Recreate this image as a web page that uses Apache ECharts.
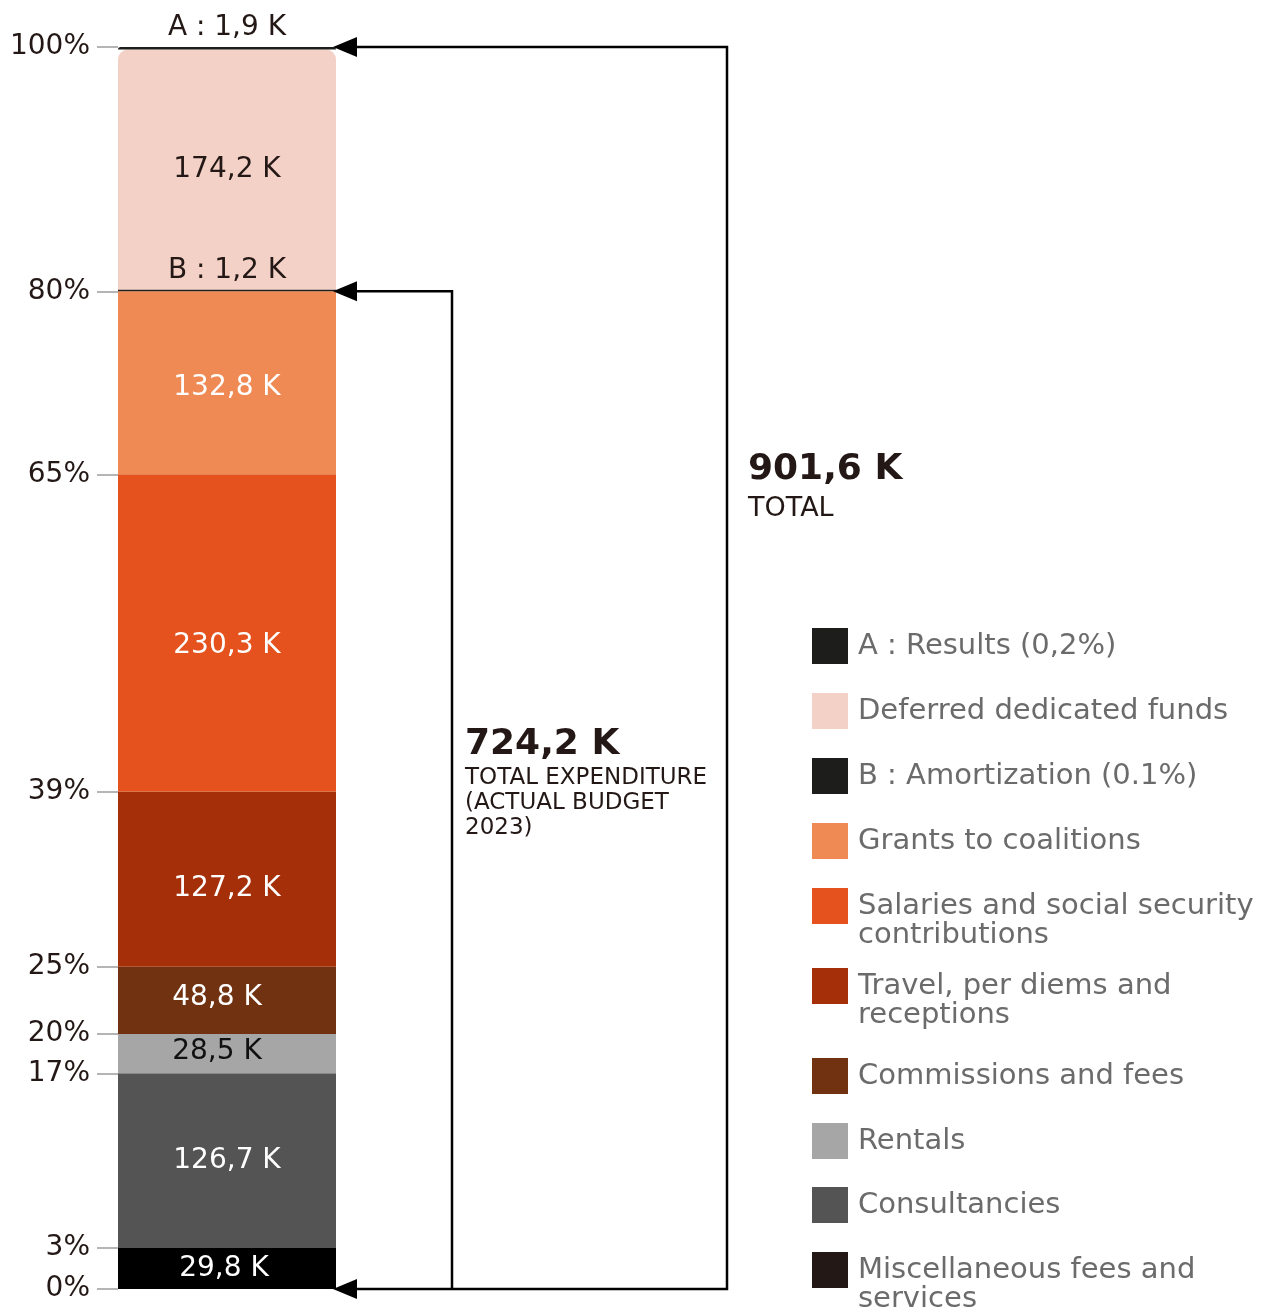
<!DOCTYPE html>
<html><head><meta charset="utf-8">
<script src="https://cdn.jsdelivr.net/npm/echarts@6/dist/echarts.min.js"></script>
<style>html,body{margin:0;padding:0;background:#fff}#c{width:1264px;height:1309px}</style>
</head><body><div id="c"></div>
<script>
// ---- data (bottom to top of the stack) ----
const categories = ['Miscellaneous fees and services','Consultancies','Rentals','Commissions and fees',
  'Travel, per diems and receptions','Salaries and social security contributions','Grants to coalitions',
  'B : Amortization (0.1%)','Deferred dedicated funds','A : Results (0,2%)'];
const values = [29.8, 126.7, 28.5, 48.8, 127.2, 230.3, 132.8, 1.2, 174.2, 1.9];
const labelPrefixes = ['', '', '', '', '', '', '', 'B : ', '', 'A : '];
const legendTexts = ['Miscellaneous fees and\nservices','Consultancies','Rentals','Commissions and fees',
  'Travel, per diems and\nreceptions','Salaries and social security\ncontributions','Grants to coalitions',
  'B : Amortization (0.1%)','Deferred dedicated funds','A : Results (0,2%)'];
const tickLabels = ['0%','3%','17%','20%','25%','39%','65%','80%','100%'];
const tickAfterIndex = [-1, 0, 1, 2, 3, 4, 5, 6, 9];
const totalValue = 901.6;
const expenditureValue = 724.2;
const totalText = ['901,6 K', 'TOTAL'];
const expenditureText = ['724,2 K', 'TOTAL EXPENDITURE\n(ACTUAL BUDGET\n2023)'];

// ---- styles ----
const FONT = 'DejaVu Sans';
const colors = ['#000000','#545454','#a6a6a6','#713211','#a52f09','#e5521e','#f08a54','#1d1d1b','#f4d1c6','#1d1d1b'];
const legendColors = ['#231815','#545454','#a6a6a6','#713211','#a52f09','#e5521e','#f08a54','#1d1d1b','#f4d1c6','#1d1d1b'];
const labelColors = ['#fff','#fff','#111','#fff','#fff','#fff','#fff','#231815','#231815','#231815'];
const labelOffsets = [[-3,0],[0,0],[-10,-2],[-10,-3],[0,9],[0,13],[0,5],[0,0],[0,0],[0,0]];
const legendOrder = [9, 8, 7, 6, 5, 4, 3, 2, 1, 0];
const legendTops = [628, 693, 758, 823, 888, 968, 1058, 1123, 1187, 1252];
const BAR_W = 218;
const LEG_LH = 29;

const cumulative = [];
values.reduce((s, v, i) => (cumulative[i] = s + v), 0);
const stackTop = cumulative[cumulative.length - 1];
const tickValues = tickAfterIndex.map(i => (i < 0 ? 0 : cumulative[i]));
const fmt = v => v.toFixed(1).replace('.', ',') + ' K';

const chart = echarts.init(document.getElementById('c'), null, {renderer: 'canvas'});
chart.setOption({
  animation: false,
  backgroundColor: '#fff',
  grid: {left: 118, top: 47, bottom: 20, width: BAR_W, containLabel: false},
  xAxis: {type: 'category', data: ['Budget'], show: false},
  yAxis: {
    type: 'value', min: 0, max: stackTop,
    axisLine: {show: false}, splitLine: {show: false},
    axisTick: {show: true, customValues: tickValues, length: 21, lineStyle: {color: '#b5b5b5', width: 2}},
    axisLabel: {
      customValues: tickValues, margin: 28, fontSize: 28, fontFamily: FONT, color: '#231815',
      formatter: v => {
        let best = 0;
        tickValues.forEach((t, i) => { if (Math.abs(t - v) < Math.abs(tickValues[best] - v)) best = i; });
        return tickLabels[best];
      }
    }
  },
  legend: legendOrder.map((idx, k) => {
    const two = legendTexts[idx].indexOf('\n') >= 0;
    return {
      data: [{name: categories[idx], icon: 'rect', itemStyle: {color: legendColors[idx]}}],
      left: 812, top: legendTops[k] - (two ? (3 * LEG_LH) / 2 - 18 : 0),
      orient: 'vertical', itemWidth: 36, itemHeight: 36, itemGap: 0, padding: 0,
      selectedMode: false,
      // a leading empty line keeps the first text line level with the square
      formatter: () => (two ? '\n' : '') + legendTexts[idx],
      textStyle: {color: '#6b6b6b', fontSize: 29, fontFamily: FONT, lineHeight: LEG_LH, padding: [0, 0, 0, 5]}
    };
  }),
  series: categories.map((name, i) => ({
    name, type: 'bar', stack: 'total', barWidth: BAR_W,
    data: [values[i]],
    z: i === 7 ? 4 : 2,
    itemStyle: {color: colors[i], borderRadius: i === 8 ? [10, 10, 0, 0] : (i === 9 ? [3, 3, 0, 0] : 0)},
    label: {
      show: true, position: (i === 7 || i === 9) ? 'top' : 'inside', distance: 5,
      offset: labelOffsets[i],
      formatter: () => labelPrefixes[i] + fmt(values[i]),
      color: labelColors[i], fontSize: 28, fontFamily: FONT
    },
    emphasis: {disabled: true}
  }))
});

// ---- annotation brackets computed from the axis scale ----
const yTop = chart.convertToPixel({yAxisIndex: 0}, stackTop);
const yExp = chart.convertToPixel({yAxisIndex: 0}, expenditureValue);
const yZero = chart.convertToPixel({yAxisIndex: 0}, 0);
const xRight = chart.convertToPixel({xAxisIndex: 0}, 0) + BAR_W / 2;
const xOuter = 727, xInner = 452;
const AW = 24, AH = 10;
const arrow = y => ({type: 'polygon', shape: {points: [[xRight - 3, y], [xRight - 3 + AW, y - AH], [xRight - 3 + AW, y + AH]]}, style: {fill: '#000'}, z: 10});
const line = pts => ({type: 'polyline', shape: {points: pts}, style: {stroke: '#000', lineWidth: 2.5, fill: null}, z: 9});
chart.setOption({
  graphic: [
    line([[xRight + 10, yTop], [xOuter, yTop], [xOuter, yZero], [xRight + 10, yZero]]),
    line([[xRight + 10, yExp], [xInner, yExp], [xInner, yZero]]),
    arrow(yTop), arrow(yExp), arrow(yZero),
    {type: 'text', x: 748, y: 470, style: {text: totalText[0], font: 'bold 36px "DejaVu Sans"', fill: '#231815', verticalAlign: 'middle'}},
    {type: 'text', x: 748, y: 509, style: {text: totalText[1], font: '27px "DejaVu Sans"', fill: '#231815', verticalAlign: 'middle'}},
    {type: 'text', x: 465, y: 745, style: {text: expenditureText[0], font: 'bold 36px "DejaVu Sans"', fill: '#231815', verticalAlign: 'middle'}},
    {type: 'text', x: 465, y: 766, style: {text: expenditureText[1], font: '23px "DejaVu Sans"', lineHeight: 25, fill: '#231815', verticalAlign: 'top'}}
  ]
});
</script></body></html>
